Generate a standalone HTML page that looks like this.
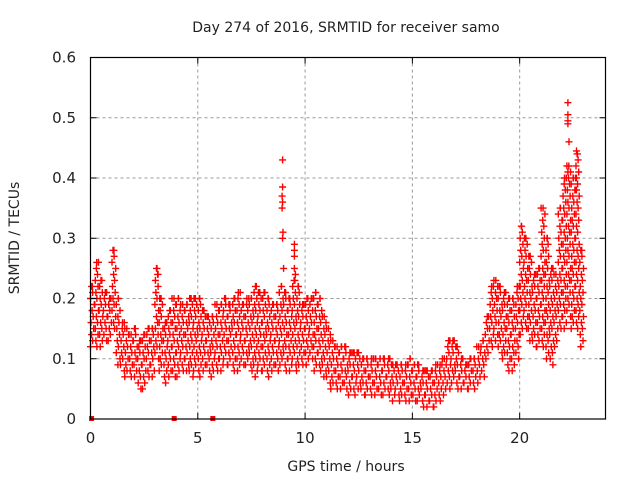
<!DOCTYPE html>
<html><head><meta charset="utf-8"><style>
body{margin:0;background:#fff}
svg{display:block;font-family:"DejaVu Sans","Liberation Sans",sans-serif}
</style></head><body>
<svg id="chart" width="640" height="480" viewBox="0 0 640 480">
<text x="346" y="32" font-size="14" text-anchor="middle" fill="#222">Day 274 of 2016, SRMTID for receiver samo</text>
<text x="346" y="471" font-size="14" text-anchor="middle" fill="#222">GPS time / hours</text>
<text transform="translate(19,238) rotate(-90)" font-size="14" text-anchor="middle" fill="#222">SRMTID / TECUs</text>
<g id="grid"></g>
<g id="marks"></g>
<rect x="90.5" y="57.5" width="515" height="361.5" fill="none" stroke="#000" stroke-width="1.2"/>
<g id="axes"></g>
</svg>
<script>
const xTicks=[0,5,10,15,20];
const yTicks=[0,0.1,0.2,0.3,0.4,0.5,0.6];
const yTickLabels=["0","0.1","0.2","0.3","0.4","0.5","0.6"];
const stepHours=0.2;
const lowValues=[0.12,0.12,0.12,0.13,0.13,0.15,0.09,0.08,0.07,0.07,
0.07,0.05,0.05,0.07,0.07,0.1,0.08,0.06,0.07,0.07,
0.07,0.08,0.08,0.07,0.08,0.07,0.08,0.08,0.07,0.08,
0.08,0.09,0.09,0.08,0.08,0.09,0.09,0.08,0.07,0.08,
0.08,0.07,0.08,0.08,0.09,0.08,0.08,0.09,0.08,0.09,
0.09,0.1,0.08,0.08,0.07,0.06,0.05,0.05,0.05,0.05,
0.04,0.04,0.05,0.04,0.04,0.04,0.04,0.04,0.04,0.04,
0.03,0.04,0.03,0.03,0.03,0.03,0.03,0.02,0.02,0.02,
0.02,0.03,0.04,0.05,0.06,0.05,0.05,0.05,0.05,0.05,
0.06,0.07,0.1,0.12,0.13,0.11,0.1,0.08,0.08,0.1,
0.14,0.15,0.13,0.12,0.12,0.12,0.1,0.09,0.12,0.15,
0.15,0.17,0.15,0.15,0.12];
const highValues=[0.22,0.26,0.23,0.21,0.2,0.28,0.2,0.16,0.15,0.14,
0.15,0.13,0.14,0.15,0.15,0.25,0.2,0.16,0.18,0.2,
0.2,0.19,0.19,0.2,0.2,0.2,0.18,0.17,0.17,0.19,
0.19,0.2,0.19,0.2,0.21,0.19,0.2,0.2,0.22,0.21,
0.21,0.2,0.19,0.19,0.22,0.21,0.2,0.23,0.22,0.19,
0.2,0.2,0.21,0.2,0.17,0.15,0.13,0.12,0.12,0.12,
0.11,0.11,0.11,0.1,0.1,0.1,0.1,0.1,0.1,0.1,
0.09,0.09,0.09,0.09,0.1,0.09,0.09,0.08,0.08,0.08,
0.09,0.09,0.1,0.13,0.13,0.12,0.1,0.09,0.1,0.1,
0.12,0.13,0.17,0.22,0.23,0.22,0.21,0.2,0.2,0.22,
0.32,0.3,0.27,0.24,0.25,0.35,0.3,0.25,0.24,0.35,
0.4,0.42,0.4,0.44,0.28];
const spikeTimes=[8.95,8.95,8.93,8.95,8.93,8.97,8.95,9.0,9.5,9.5,9.5,9.55,9.5,22.25,22.25,22.25,22.25,22.3,22.25,22.65,22.6,22.65,1.05,1.1,3.1,3.15];
const spikeValues=[0.43,0.385,0.37,0.36,0.35,0.31,0.3,0.25,0.29,0.28,0.27,0.24,0.25,0.525,0.505,0.495,0.49,0.46,0.41,0.445,0.4,0.38,0.28,0.27,0.25,0.24];
const zeroTimes=[0.05,3.9,5.7];
const zeroValues=[0,0,0];

const X0=90.5,X1=605.5,Y0=419,Y1=57.5;
const xs=t=>X0+(t/24)*(X1-X0);
const ys=v=>Y0-(v/0.6)*(Y0-Y1);
const NS="http://www.w3.org/2000/svg";
const grid=document.getElementById('grid'),marks=document.getElementById('marks'),axes=document.getElementById('axes');
function mk(tag,attrs,parent){const e=document.createElementNS(NS,tag);for(const k in attrs)e.setAttribute(k,attrs[k]);parent.appendChild(e);return e;}

xTicks.forEach(t=>{
  const x=xs(t);
  if(t>0){const g=mk('line',{x1:x,x2:x,y1:Y1,y2:Y0,stroke:'#999','stroke-width':1,'stroke-dasharray':'3,3'},grid);
  
  }
  const a=mk('line',{x1:x,x2:x,y1:Y0,y2:Y0-6,stroke:'#000'},axes);
  
  
  const b=mk('line',{x1:x,x2:x,y1:Y1,y2:Y1+6,stroke:'#000'},axes);
  
  
  const l=mk('text',{x:x,y:443,'font-size':15,'text-anchor':'middle',fill:'#222'},axes);
  l.textContent=String(t);
  
  
});
yTicks.forEach((v,i)=>{
  const y=ys(v);
  if(i>0&&i<yTicks.length-1){const g=mk('line',{x1:X0,x2:X1,y1:y,y2:y,stroke:'#999','stroke-width':1,'stroke-dasharray':'3,3'},grid);
  
  }
  const a=mk('line',{x1:X0,x2:X0+6,y1:y,y2:y,stroke:'#000'},axes);
  
  
  const b=mk('line',{x1:X1,x2:X1-6,y1:y,y2:y,stroke:'#000'},axes);
  
  
  const l=mk('text',{x:76,y:y+5,'font-size':15,'text-anchor':'end',fill:'#222'},axes);
  l.textContent=yTickLabels[i];
  
  
});
let d='';
function plus(t,v){const x=xs(t),y=ys(v);d+=`M${(x-3.5).toFixed(1)} ${y.toFixed(1)}h7M${x.toFixed(1)} ${(y-3.5).toFixed(1)}v7`;}
const offs=[0,0.1,0.05,0.15,0.025,0.125,0.075,0.175];
lowValues.forEach((lo,i)=>{
  const hi=highValues[i];
  let k=0;
  for(let v=lo;v<=hi+1e-9;v+=0.010){
    plus(i*stepHours+offs[(k+i)%offs.length],v);k++;
  }
  plus(i*stepHours+0.09,hi);
});
spikeTimes.forEach((t,i)=>plus(t,spikeValues[i]));
const p=mk('path',{d:d,stroke:'#ff0000','stroke-width':1.4,fill:'none'},marks);


zeroTimes.forEach((t,i)=>{
  const r=mk('rect',{x:xs(t)-2.5,y:ys(zeroValues[i])-3,width:5,height:5,fill:'#ff0000'},marks);
  
  
});
</script>
</body></html>
